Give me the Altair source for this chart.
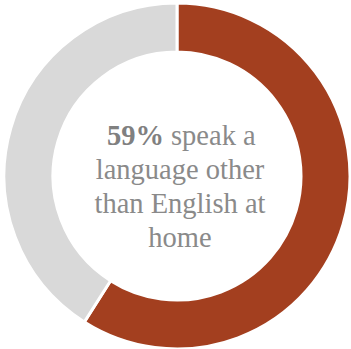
import altair as alt
import pandas as pd

categories = ["Other language", "English only"]
values = [59, 41]
colors = ["#a33f1f", "#d9d9d9"]

df = pd.DataFrame({"category": categories, "value": values, "order": [0, 1]})

arc = alt.Chart(df).mark_arc(innerRadius=124, outerRadius=173, stroke="white", strokeWidth=3).encode(
    theta=alt.Theta("value:Q", stack=True),
    order=alt.Order("order:Q"),
    color=alt.Color("category:N", scale=alt.Scale(domain=categories, range=colors), legend=None),
    x=alt.value(177),
    y=alt.value(176),
)

font = "Liberation Serif"
tcol = "#8a8a8a"
fs = 28.5

bold = alt.Chart(pd.DataFrame({"t": ["59%"]})).mark_text(
    font=font, fontSize=fs, fontWeight="bold", color="#808080", align="right", baseline="alphabetic"
).encode(text="t:N", x=alt.value(164), y=alt.value(145))

first = alt.Chart(pd.DataFrame({"t": ["speak a"]})).mark_text(
    font=font, fontSize=fs, color=tcol, align="left", baseline="alphabetic"
).encode(text="t:N", x=alt.value(171), y=alt.value(145))

lines = pd.DataFrame({
    "t": ["language other", "than English at", "home"],
    "y": [179, 213, 247],
})
rest = alt.Chart(lines).mark_text(
    font=font, fontSize=fs, color=tcol, align="center", baseline="alphabetic"
).encode(text="t:N", x=alt.value(180), y=alt.Y("y:Q", scale=None))

chart = alt.layer(arc, bold, first, rest).properties(
    width=351, height=349, padding=0, autosize=alt.AutoSizeParams(type="none")
).configure_view(stroke=None)

chart.save("out.html", embed_options={"renderer": "svg", "actions": False})
